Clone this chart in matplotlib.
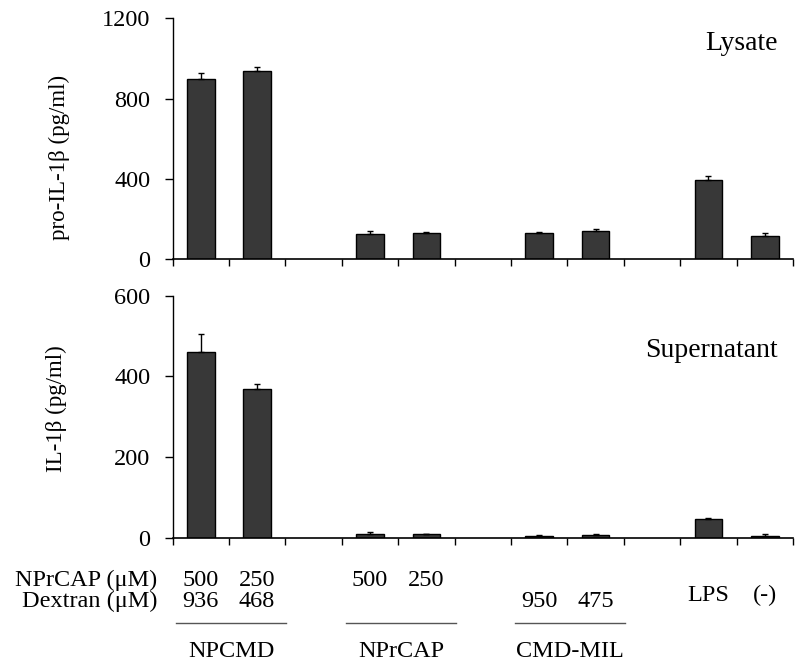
import numpy as np
import matplotlib
matplotlib.use('Agg')
import matplotlib.pyplot as plt
from matplotlib.transforms import blended_transform_factory

#Data##########################################################################
slots = [0, 1, 3, 4, 6, 7, 9, 10]          # bar slot index (11 slots, gaps at 2, 5, 8)
lysate = [898, 936, 125, 129, 129, 141, 395, 115]
lysate_err = [32, 24, 16, 5, 7, 8, 20, 14]
supern = [460, 368, 11, 9, 4, 8, 48, 6]
supern_err = [46, 14, 4, 2, 3, 1, 2, 3]

nprcap_row = ['500', '250', '500', '250', '', '', '', '']
dextran_row = ['936', '468', '', '', '950', '475', '', '']
ctrl_row = ['', '', '', '', '', '', 'LPS', '(-)']
groups = ['NPCMD', 'NPrCAP', 'CMD-MIL']
group_slots = [(0, 1), (3, 4), (6, 7)]
top_ticks = [0, 400, 800, 1200]
bot_ticks = [0, 200, 400, 600]
###############################################################################

plt.rcParams['font.family'] = ['Liberation Serif', 'DejaVu Serif']

fig = plt.figure(figsize=(7.95, 6.63), dpi=100)
W, H = 795.0, 663.0
x0, x1 = 172.5, 793.0
ax1 = fig.add_axes([x0 / W, 1 - 259 / H, (x1 - x0) / W, (259 - 18.5) / H])
ax2 = fig.add_axes([x0 / W, 1 - 538 / H, (x1 - x0) / W, (538 - 295.7) / H])

barcol = '#383838'

def draw_panel(ax, vals, errs, ticks, title, title_y):
    ax.bar(slots, vals, width=0.49, color=barcol, edgecolor='black', linewidth=1.0, zorder=2)
    ax.errorbar(slots, vals, yerr=[np.zeros(len(errs)), errs], fmt='none',
                ecolor='black', elinewidth=1.0, capsize=2.2, capthick=1.0, zorder=3)
    ax.set_xlim(-0.5, 10.5)
    ax.set_ylim(ticks[0], ticks[-1])
    ax.set_yticks(ticks)
    ax.set_xticks(np.arange(-0.5, 11.0, 1.0))
    ax.set_xticklabels([])
    for s in ['top', 'right']:
        ax.spines[s].set_visible(False)
    ax.spines['left'].set_linewidth(1.0)
    ax.spines['bottom'].set_linewidth(1.2)
    ax.tick_params(axis='y', direction='out', length=6, width=1.0, pad=10, labelsize=17.5)
    ax.tick_params(axis='x', direction='out', length=5, width=1.0)
    ax.text((778 - x0) / (x1 - x0), title_y, title, transform=ax.transAxes,
            ha='right', va='baseline', fontsize=20)

draw_panel(ax1, lysate, lysate_err, top_ticks, 'Lysate', 1 - (50 - 18.5) / (259 - 18.5))
draw_panel(ax2, supern, supern_err, bot_ticks, 'Supernatant', 1 - (357 - 295.7) / (538 - 295.7))

fig.text(59 / W, 1 - 240 / H, 'pro-IL-1β (pg/ml)', rotation=90, rotation_mode='anchor',
         ha='left', va='center', fontsize=16.5)
fig.text(56 / W, 1 - 472 / H, 'IL-1β (pg/ml)', rotation=90, rotation_mode='anchor',
         ha='left', va='center', fontsize=16.5)

# rows of condition labels under the lower panel
def ypos(py):
    return (538 - py) / (538 - 295.7)

trx = ax2.get_xaxis_transform()
trf = blended_transform_factory(fig.transFigure, ax2.transAxes)
fig.text(157 / W, ypos(586), 'NPrCAP (μM)', transform=trf, ha='right', va='baseline', fontsize=17.5)
fig.text(157 / W, ypos(607), 'Dextran (μM)', transform=trf, ha='right', va='baseline', fontsize=17.5)
for s, a, b, c in zip(slots, nprcap_row, dextran_row, ctrl_row):
    if a:
        ax2.text(s, ypos(586), a, transform=trx, ha='center', va='baseline', fontsize=17.5)
    if b:
        ax2.text(s, ypos(607), b, transform=trx, ha='center', va='baseline', fontsize=17.5)
    if c:
        ax2.text(s, ypos(601), c, transform=trx, ha='center', va='baseline', fontsize=17.5)
for name, (a, b) in zip(groups, group_slots):
    ax2.plot([a - 0.43, b + 0.52], [ypos(623)] * 2, transform=trx, color='#555555',
             linewidth=1.0, clip_on=False)
    ax2.text((a + b) / 2 + 0.05, ypos(657), name, transform=trx, ha='center', va='baseline', fontsize=17.5)

fig.savefig('out.png', dpi=100)
